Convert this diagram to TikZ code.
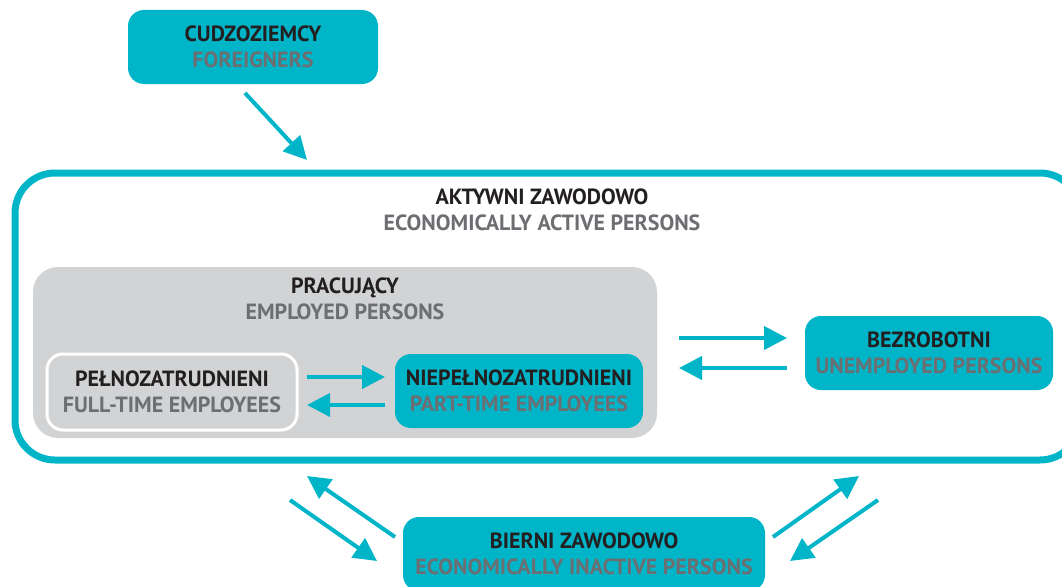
\documentclass[tikz,border=0pt]{standalone}
\usepackage{fontspec}
\setmainfont{PT Sans}
\usetikzlibrary{arrows.meta}

\definecolor{turq}{HTML}{00B5C8}
\definecolor{lightgrey}{HTML}{D1D3D4}
\definecolor{ink}{HTML}{231F20}
\definecolor{greytext}{HTML}{6D6E71}
\newcommand{\twolines}[2]{{\color{ink}#1}\\{\color{greytext}#2}}

\tikzset{
  label text/.style={align=center, font=\bfseries\fontsize{22}{26}\selectfont},
  tealbox/.style={label text, fill=turq, rounded corners=16pt, minimum height=74pt, inner sep=0pt},
  flow/.style={turq, line width=4pt, -{Triangle[length=23pt,width=23pt]}},
}

\begin{document}
\begin{tikzpicture}[x=1pt,y=-1pt]
\useasboundingbox (0,0) rectangle (1062,586);

% outer frame and employed area
\node[draw=turq, line width=7pt, rounded corners=40pt, minimum width=1065pt, minimum height=287pt, inner sep=0] (active) at (547.5,316.5) {};
\node[label text] (activetitle) at (542,210) {\twolines{AKTYWNI ZAWODOWO}{ECONOMICALLY ACTIVE PERSONS}};
\node[fill=lightgrey, rounded corners=25pt, minimum width=624pt, minimum height=171pt, inner sep=0] (employed) at (345,352.5) {};
\node[label text] (employedtitle) at (345,298.5) {\twolines{PRACUJĄCY}{EMPLOYED PERSONS}};

% boxes
\node[tealbox, minimum width=250pt] (foreign) at (253,47) {\twolines{CUDZOZIEMCY}{FOREIGNERS}};
\node[label text, fill=lightgrey, draw=white, line width=3pt, rounded corners=16pt, minimum width=250pt, minimum height=76pt, inner sep=0pt] (fulltime) at (172,392) {\twolines{PEŁNOZATRUDNIENI}{FULL-TIME EMPLOYEES}};
\node[tealbox, minimum width=248pt] (parttime) at (519,391) {\twolines{NIEPEŁNOZATRUDNIENI}{PART-TIME EMPLOYEES}};
\node[tealbox, minimum width=248pt] (unemployed) at (929,353) {\twolines{BEZROBOTNI}{UNEMPLOYED PERSONS}};
\node[tealbox, minimum width=362pt] (inactive) at (584,554) {\twolines{BIERNI ZAWODOWO}{ECONOMICALLY INACTIVE PERSONS}};

% arrow ends
\coordinate (f1) at (245,93);  \coordinate (f2) at (307,160);
\coordinate (p1) at (307,377); \coordinate (p2) at (385,377);
\coordinate (p3) at (385,405); \coordinate (p4) at (307,405);
\coordinate (u1) at (679,338); \coordinate (u2) at (787,338);
\coordinate (u3) at (787,368); \coordinate (u4) at (679,368);
\coordinate (l1) at (395,537); \coordinate (l2) at (307,476);
\coordinate (l3) at (290,500); \coordinate (l4) at (377,561);
\coordinate (r1) at (773,537); \coordinate (r2) at (859,476);
\coordinate (r3) at (878,500); \coordinate (r4) at (790,561);

\draw[flow] (f1) -- (f2);
\draw[flow] (p1) -- (p2);
\draw[flow] (p3) -- (p4);
\draw[flow] (u1) -- (u2);
\draw[flow] (u3) -- (u4);
\draw[flow] (l1) -- (l2);
\draw[flow] (l3) -- (l4);
\draw[flow] (r1) -- (r2);
\draw[flow] (r3) -- (r4);
\end{tikzpicture}
\end{document}
